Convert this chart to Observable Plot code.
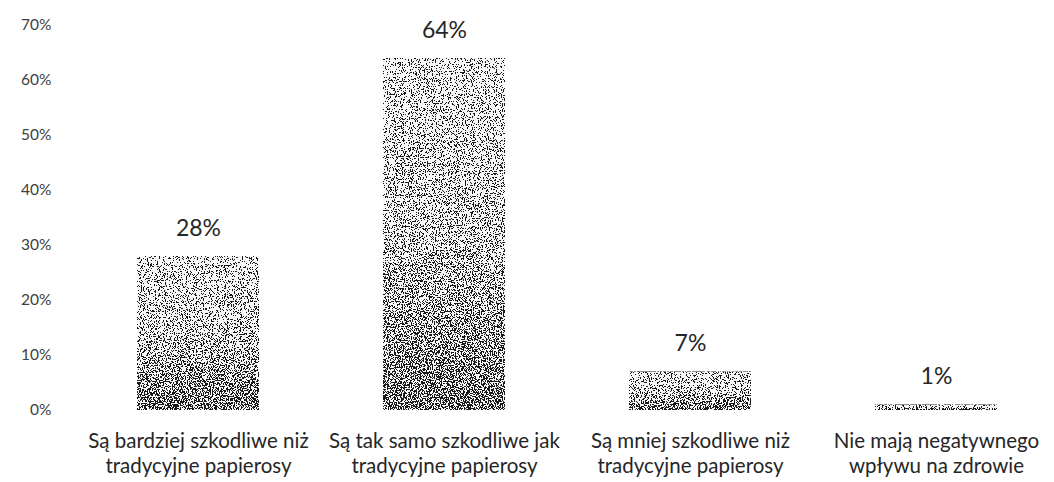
<!DOCTYPE html>
<html>
<head>
<meta charset="utf-8">
<script src="https://cdn.jsdelivr.net/npm/d3@7"></script>
<script src="https://cdn.jsdelivr.net/npm/@observablehq/plot@0.6"></script>
<style>
  body { margin: 0; background: #fff; }
  #chart svg { display: block; }
</style>
</head>
<body>
<div id="chart"></div>
<script>
const categories = [
  "Są bardziej szkodliwe niż\ntradycyjne papierosy",
  "Są tak samo szkodliwe jak\ntradycyjne papierosy",
  "Są mniej szkodliwe niż\ntradycyjne papierosy",
  "Nie mają negatywnego\nwpływu na zdrowie"
];
const values = [28, 64, 7, 1];
const yTicks = [0, 10, 20, 30, 40, 50, 60, 70];

const data = categories.map((c, i) => ({ category: c, value: values[i] }));

const defs = () => {
  const ns = "http://www.w3.org/2000/svg";
  const svgDefs = document.createElementNS(ns, "defs");
  svgDefs.innerHTML = `
    <linearGradient id="barGrad" x1="0" y1="0" x2="0" y2="1">
      <stop offset="0" stop-color="#a8a8a8"/>
      <stop offset="0.5" stop-color="#9c9c9c"/>
      <stop offset="1" stop-color="#787878"/>
    </linearGradient>
    <filter id="stipple" x="0" y="0" width="100%" height="100%" color-interpolation-filters="sRGB">
      <feTurbulence type="fractalNoise" baseFrequency="0.87" numOctaves="2" seed="3" result="noise"/>
      <feColorMatrix in="noise" type="matrix" values="1 0 0 0 0  1 0 0 0 0  1 0 0 0 0  0 0 0 0 1" result="gnoise"/>
      <feComposite in="SourceGraphic" in2="gnoise" operator="arithmetic" k1="0" k2="1" k3="1.6" k4="-0.8" result="mix"/>
      <feComponentTransfer in="mix" result="th">
        <feFuncR type="discrete" tableValues="0.1 0.97"/>
        <feFuncG type="discrete" tableValues="0.1 0.97"/>
        <feFuncB type="discrete" tableValues="0.1 0.97"/>
      </feComponentTransfer>
      <feComposite in="th" in2="SourceGraphic" operator="in"/>
    </filter>`;
  return svgDefs;
};

const chart = Plot.plot({
  width: 1054,
  height: 482,
  marginLeft: 135,
  marginRight: 56,
  marginTop: 25,
  marginBottom: 72,
  style: { fontFamily: "Lato, 'Open Sans', sans-serif", background: "#fff", color: "#404040" },
  x: { domain: categories, paddingInner: 0.506, paddingOuter: 0, label: null },
  y: { domain: [0, 70], label: null },
  marks: [
    defs,
    Plot.barY(data, {
      x: "category", y: "value",
      fill: "url(#barGrad)"
    }),
    Plot.axisY({
      ticks: yTicks, tickSize: 0, tickPadding: 84,
      tickFormat: d => d + "%", fontSize: 15.5, fill: "#404040", label: null
    }),
    Plot.axisX({
      tickSize: 0, tickPadding: 20, fontSize: 20.5, fill: "#262626",
      lineHeight: 1.2, label: null
    }),
    Plot.text(data, {
      x: "category", y: "value", text: d => d.value + "%",
      dy: -28, fontSize: 23, fill: "#262626"
    })
  ]
});

chart.querySelectorAll("g[aria-label='bar'] rect").forEach(r => r.setAttribute("filter", "url(#stipple)"));
document.getElementById("chart").appendChild(chart);
</script>
</body>
</html>
